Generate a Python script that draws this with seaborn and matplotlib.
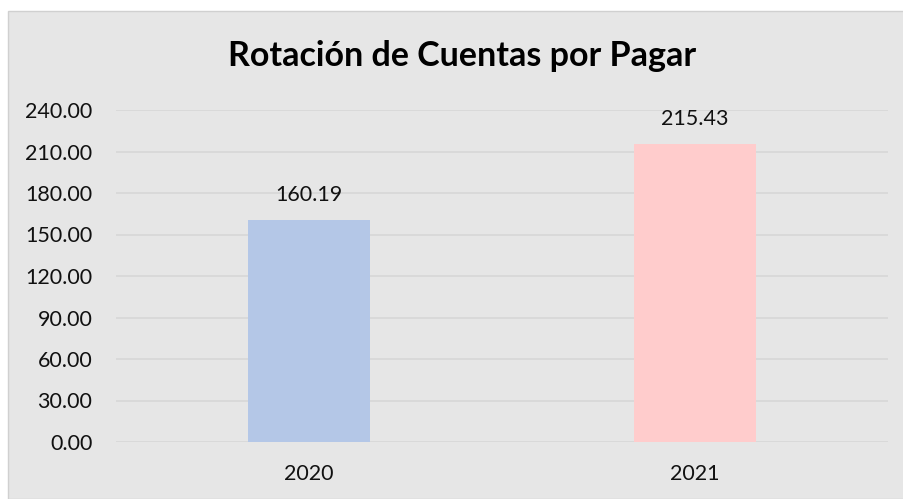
import pandas as pd
import matplotlib.pyplot as plt
import matplotlib.patches as mpatches
import seaborn as sns

sns.set_style('white')
plt.rcParams['font.family'] = ['Lato', 'DejaVu Sans']

years = ['2020', '2021']
rotacion = [160.19, 215.43]
colores = ['#b4c7e7', '#ffcccc']
yticks = [0, 30, 60, 90, 120, 150, 180, 210, 240]

df = pd.DataFrame({'Año': years, 'Rotación': rotacion})

W, H = 904, 499
fig = plt.figure(figsize=(W / 100, H / 100), dpi=100, facecolor='white')
# chart area background with thin border
fig.patches.append(mpatches.Rectangle((8 / W, 0), (W - 8) / W, (H - 11) / H,
                                      transform=fig.transFigure, facecolor='#e6e6e6',
                                      edgecolor='#d0d0d0', linewidth=1, zorder=-5))

ax = fig.add_axes([116 / W, (H - 442) / H, 772 / W, (442 - 110) / H])
ax.set_zorder(2)
ax.set_facecolor('#e6e6e6')
sns.barplot(data=df, x='Año', y='Rotación', hue='Año', palette=colores,
            width=0.316, saturation=1, linewidth=0, legend=False, ax=ax, zorder=3)

ax.set_ylim(0, 240)
ax.set_yticks(yticks)
ax.set_yticklabels([f'{v:.2f}' for v in yticks])
ax.grid(axis='y', color='#d8d8d8', linewidth=1.3, zorder=0)
ax.set_axisbelow(True)
for s in ax.spines.values():
    s.set_visible(False)
ax.tick_params(axis='both', length=0, labelsize=15.5, colors='#111111')
ax.tick_params(axis='y', pad=17)
ax.tick_params(axis='x', pad=16)
ax.set_xlabel('')
ax.set_ylabel('')

for i, v in enumerate(rotacion):
    ax.annotate(f'{v:.2f}', (i, v), xytext=(0, 11), textcoords='offset points',
                ha='center', va='bottom', fontsize=15.5, color='#111111')

fig.text(462 / W, 1 - 56 / H, 'Rotación de Cuentas por Pagar', ha='center', va='center',
         fontsize=24.5, fontweight='bold', color='black', zorder=5)

fig.savefig('out.png', dpi=100, facecolor='white')
